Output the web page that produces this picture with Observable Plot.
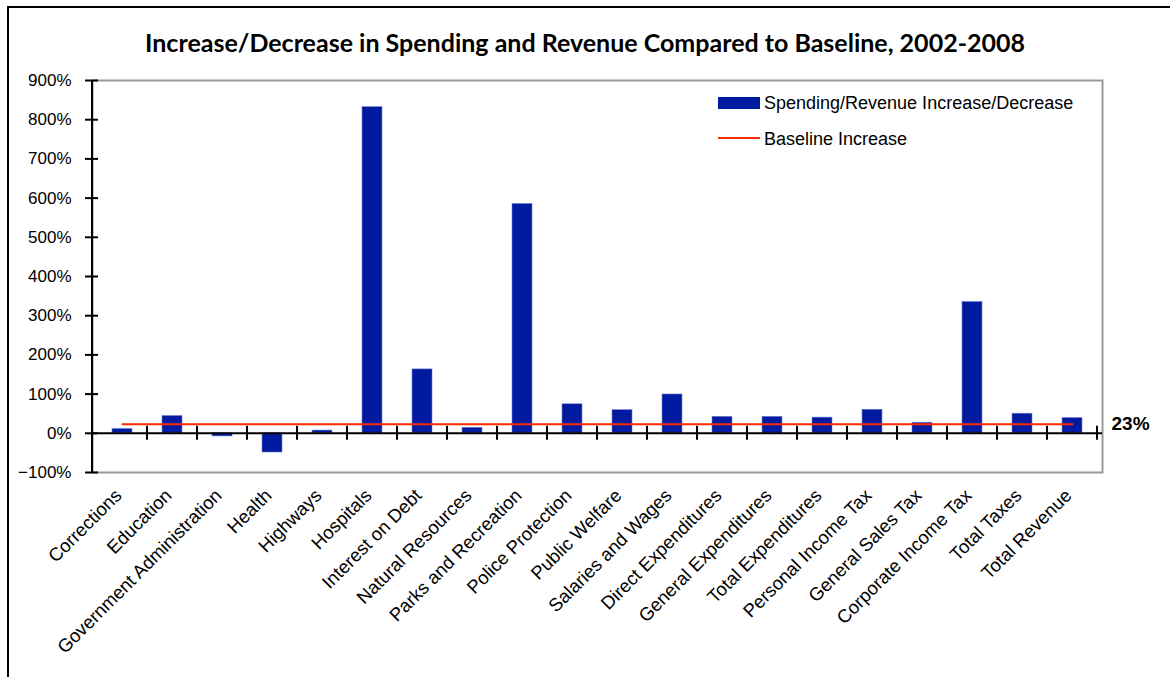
<!DOCTYPE html>
<html>
<head>
<meta charset="utf-8">
<script src="https://cdn.jsdelivr.net/npm/d3@7"></script>
<script src="https://cdn.jsdelivr.net/npm/@observablehq/plot@0.6"></script>
<style>
  html, body { margin: 0; padding: 0; background: #fff; }
  #wrap { position: relative; width: 1170px; height: 677px; overflow: hidden; }
  #border { position: absolute; left: 7px; top: 6px; width: 1200px; height: 800px; border: 2px solid #000; box-sizing: border-box; }
  #title { position: absolute; left: 0; top: 27px; width: 1170px; text-align: center;
    font-family: "Lato", "Open Sans", sans-serif; font-weight: bold; font-size: 25px; color: #000; }
  .leg { position: absolute; font-family: "Liberation Sans", Arial, sans-serif; font-size: 18px; color: #000; }
  #chart { position: absolute; left: 0; top: 0; }
</style>
</head>
<body>
<div id="wrap">
  <div id="border"></div>
  <div id="chart"></div>
  <div id="title">Increase/Decrease in Spending and Revenue Compared to Baseline, 2002-2008</div>
  <div class="leg" style="left:718px; top:97px; width:42px; height:12px; background:#001ba0;"></div>
  <div class="leg" style="left:764px; top:93px;">Spending/Revenue Increase/Decrease</div>
  <div class="leg" style="left:718px; top:137px; width:42px; height:2px; background:#ff2a00;"></div>
  <div class="leg" style="left:764px; top:129px;">Baseline Increase</div>
</div>
<script>
const categories = ["Corrections", "Education", "Government Administration", "Health", "Highways", "Hospitals",
  "Interest on Debt", "Natural Resources", "Parks and Recreation", "Police Protection", "Public Welfare",
  "Salaries and Wages", "Direct Expenditures", "General Expenditures", "Total Expenditures",
  "Personal Income Tax", "General Sales Tax", "Corporate Income Tax", "Total Taxes", "Total Revenue"];
const changes = [0.11, 0.44, -0.08, -0.49, 0.07, 8.32, 1.63, 0.14, 5.85, 0.74, 0.59, 0.99, 0.42, 0.42, 0.40,
  0.60, 0.27, 3.35, 0.50, 0.39];
const baseline = 0.23;
const yTicks = [-1, 0, 1, 2, 3, 4, 5, 6, 7, 8, 9];

const data = categories.map((c, i) => ({category: c, value: changes[i]}));
const pct = d3.format(".0%");
const sans = '"Liberation Sans", Arial, sans-serif';

const chart = Plot.plot({
  width: 1170,
  height: 677,
  marginTop: 80,
  marginLeft: 92,
  marginRight: 68,
  marginBottom: 205,
  style: {fontFamily: sans, fontSize: "17px", color: "#000", background: "transparent"},
  x: {type: "band", domain: categories, paddingInner: 0.6, paddingOuter: 0.3, label: null},
  y: {domain: [-1, 9], label: null},
  marks: [
    Plot.frame({stroke: "#999", strokeWidth: 2}),
    Plot.barY(data, {x: "category", y: "value", fill: "#001ba0", stroke: "#6f7fcf", strokeWidth: 0.6}),
    Plot.ruleY([0], {stroke: "#000", strokeWidth: 2}),
    (index, scales, values, dims) => {
      const g = d3.create("svg:g").attr("stroke", "#000").attr("stroke-width", 2);
      const x = scales.x, y = scales.y;
      const step = x.step();
      const y0 = y(0);
      categories.forEach(c => {
        const xb = x(c) + x.bandwidth() / 2 + step / 2;
        g.append("line").attr("x1", xb).attr("x2", xb).attr("y1", y0 - 7).attr("y2", y0 + 7);
      });
      g.append("line").attr("x1", dims.marginLeft).attr("x2", dims.marginLeft)
        .attr("y1", dims.marginTop).attr("y2", dims.height - dims.marginBottom);
      return g.node();
    },
    Plot.lineY(categories, {x: d => d, y: () => baseline, stroke: "#ff2a00", strokeWidth: 2}),
    Plot.text([baseline], {frameAnchor: "right", y: d => d, text: d => pct(d), dx: 9, textAnchor: "start",
      fontWeight: "bold", fontSize: 19}),
    Plot.axisY({ticks: yTicks, tickFormat: pct, tickSize: 13, dx: 6, tickPadding: 14, strokeWidth: 2}),
    Plot.axisX({tickSize: 0, tickRotate: -45, tickPadding: 20, dx: -4, fontSize: 18.5})
  ]
});
document.getElementById("chart").appendChild(chart);
</script>
</body>
</html>
